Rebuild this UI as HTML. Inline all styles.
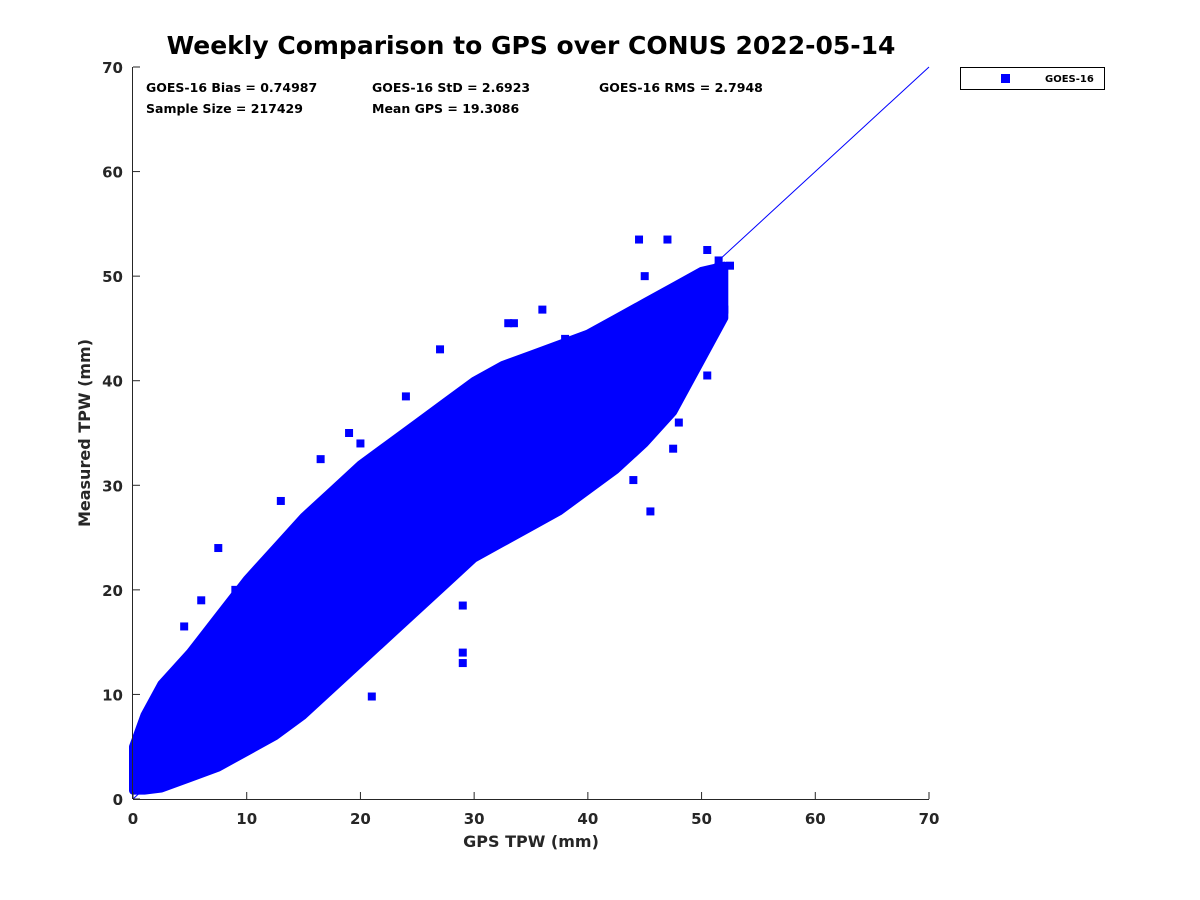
<!DOCTYPE html>
<html><head><meta charset="utf-8"><style>
html,body{margin:0;padding:0;background:#fff;}
svg{display:block;font-family:"DejaVu Sans","Liberation Sans",sans-serif;}
</style></head><body>
<svg id="chart" width="1200" height="900" viewBox="0 0 1200 900">
<rect width="1200" height="900" fill="#fff"/>
<text x="531" y="54" text-anchor="middle" font-size="25" font-weight="bold" fill="#000">Weekly Comparison to GPS over CONUS 2022-05-14</text>
<g font-size="12.5" font-weight="bold" fill="#000">
<text x="146" y="92">GOES-16 Bias = 0.74987</text>
<text x="372" y="92">GOES-16 StD = 2.6923</text>
<text x="599" y="92">GOES-16 RMS = 2.7948</text>
<text x="146" y="113">Sample Size = 217429</text>
<text x="372" y="113">Mean GPS = 19.3086</text>
</g>
<g id="marks"></g>
<g id="axes"></g>
<g>
<rect x="960.5" y="67.5" width="144" height="22" fill="#fff" stroke="#000" stroke-width="1"/>
<rect x="1001" y="74" width="9" height="9" fill="#0000ff"/>
<text x="1045" y="82" font-size="10" font-weight="bold" fill="#000">GOES-16</text>
</g>
<text x="531" y="847" text-anchor="middle" font-size="16" font-weight="bold" fill="#262626">GPS TPW (mm)</text>
<text transform="translate(90,433) rotate(-90)" text-anchor="middle" font-size="16" font-weight="bold" fill="#262626">Measured TPW (mm)</text>
</svg>
<script>
const envX = [0, 1, 2.5, 5, 7.5, 10, 12.5, 15, 17.5, 20, 22.5, 25, 27.5, 30, 32.5, 35, 37.5, 40, 42.5, 45, 47.5, 50, 52];
const envLow = [0.8, 0.8, 1, 2, 3, 4.5, 6, 8, 10.5, 13, 15.5, 18, 20.5, 23, 24.5, 26, 27.5, 29.5, 31.5, 34, 37, 42, 46];
const envHigh = [5, 8, 11, 14, 17.5, 21, 24, 27, 29.5, 32, 34, 36, 38, 40, 41.5, 42.5, 43.5, 44.5, 46, 47.5, 49, 50.5, 51];
const outX = [7.5,16.5,19,20,33,33.5,44.5,47,50.5,51.5,52.5,52,50.5,50.5,47.5,45.5,29,29,29,21,16.5,4.5,6,9,40,42.5,39,44,46,48,43,13,24,27,36,38,45,3,2];
const outY = [24,32.5,35,34,45.5,45.5,53.5,53.5,52.5,51.5,51,46.8,43.5,40.5,33.5,27.5,18.5,13,14,9.8,9.8,16.5,19,20,30.5,39,30.5,30.5,38,36,36,28.5,38.5,43,46.8,44,50,11,9];
const ticks = [0,10,20,30,40,50,60,70];
const X0=133, X1=929, Y0=799, Y1=67, MAX=70;
const sx = v => X0 + (X1-X0)*v/MAX;
const sy = v => Y0 - (Y0-Y1)*v/MAX;
const NS="http://www.w3.org/2000/svg";
const marks=document.getElementById('marks'), axes=document.getElementById('axes');
function mk(tag,attrs,parent){const e=document.createElementNS(NS,tag);for(const k in attrs)e.setAttribute(k,attrs[k]);parent.appendChild(e);return e;}
const ref = mk('line',{x1:sx(0),y1:sy(0),x2:sx(70),y2:sy(70),stroke:'#0000ff','stroke-width':1},marks);


let pts=[];
for(let i=0;i<envX.length;i++) pts.push(sx(envX[i])+','+sy(envHigh[i]));
for(let i=envX.length-1;i>=0;i--) pts.push(sx(envX[i])+','+sy(envLow[i]));
const cloud = mk('polygon',{points:pts.join(' '),fill:'#0000ff',stroke:'#0000ff','stroke-width':8,'stroke-linejoin':'round'},marks);


for(let i=0;i<outX.length;i++){
  const r = mk('rect',{x:sx(outX[i])-4,y:sy(outY[i])-4,width:8,height:8,fill:'#0000ff'},marks);
  
  
}
const xa = mk('line',{x1:X0,y1:Y0+0.5,x2:X1,y2:Y0+0.5,stroke:'#262626','stroke-width':1},axes);


const ya = mk('line',{x1:X0-0.5,y1:Y1,x2:X0-0.5,y2:Y0,stroke:'#262626','stroke-width':1},axes);


ticks.forEach(t=>{
  mk('line',{x1:sx(t),y1:Y0,x2:sx(t),y2:Y0-7,stroke:'#262626'},axes);
  mk('line',{x1:X0,y1:sy(t),x2:X0+7,y2:sy(t),stroke:'#262626'},axes);
  const tx = mk('text',{x:sx(t),y:Y0+25,'text-anchor':'middle','font-size':15,'font-weight':'bold',fill:'#262626'},axes);
  tx.textContent=t;
  
  
  const ty = mk('text',{x:X0-10,y:sy(t)+6,'text-anchor':'end','font-size':15,'font-weight':'bold',fill:'#262626'},axes);
  ty.textContent=t;
  
  
});
</script>
</body></html>
